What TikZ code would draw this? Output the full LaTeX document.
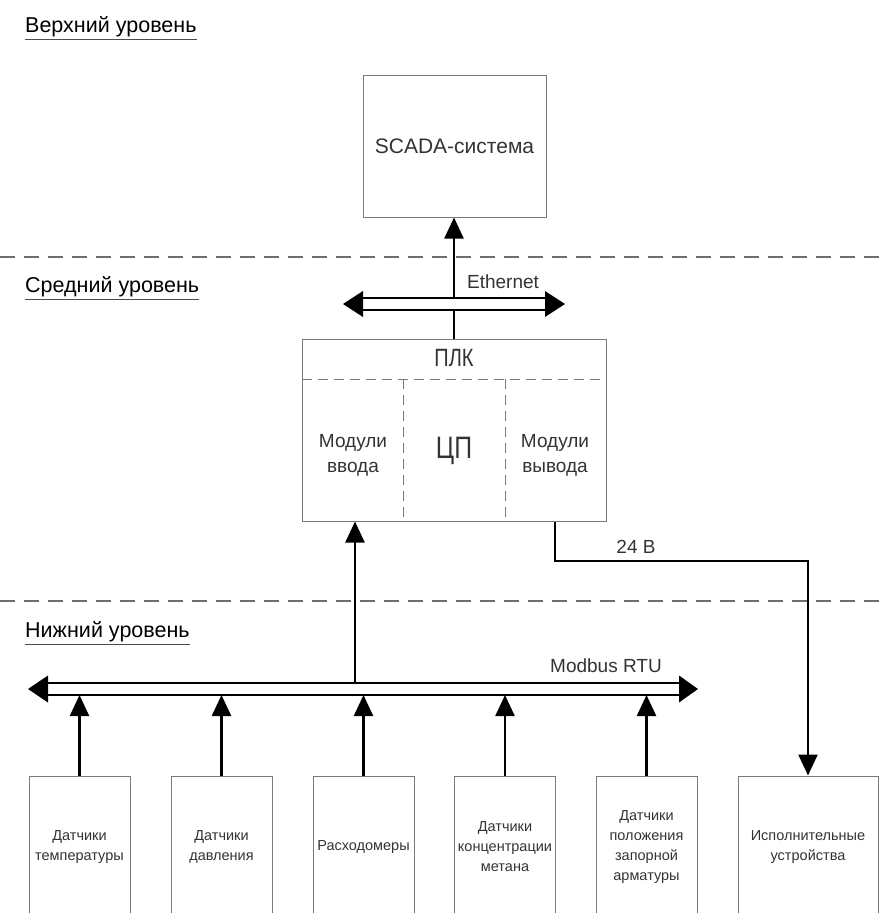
\documentclass[tikz,border=0pt]{standalone}
\usepackage{fontspec}
\setmainfont{Liberation Sans}
\newfontfamily\narrowfont[FakeStretch=0.8]{Liberation Sans}
\usetikzlibrary{arrows.meta}
\definecolor{boxgray}{HTML}{7A7A7A}
\definecolor{dashgray}{HTML}{6E6E6E}
\definecolor{txt}{HTML}{333333}
\begin{document}
\begin{tikzpicture}[x=1pt,y=-1pt,
  box/.style={draw=boxgray, line width=1pt, inner sep=0pt, text=txt, align=center},
  sensor/.style={box, minimum width=101pt, minimum height=142pt,
    font=\fontsize{14.5}{20}\selectfont},
  conn/.style={line width=2.4pt, black},
  tip/.style={-{Triangle[width=19pt,length=21pt]}},
  busline/.style={line width=2.2pt, black},
  lvl/.style={draw=dashgray, line width=1.2pt, dash pattern=on 15pt off 9pt},
  innerdash/.style={draw=boxgray, line width=0.9pt, dash pattern=on 10pt off 6pt},
  heading/.style={anchor=west, inner sep=0pt, font=\fontsize{21.5}{25}\selectfont, text=black},
  uline/.style={draw=black!70, line width=1.3pt},
  lbl/.style={inner sep=0pt, text=txt, font=\fontsize{19}{23}\selectfont}
]
\useasboundingbox (0,0) rectangle (882,913);

% level separators
\coordinate (d1l) at (0,257); \coordinate (d1r) at (882,257);
\coordinate (d2l) at (0,601); \coordinate (d2r) at (882,601);
\draw[lvl] (d1l) -- (d1r);
\draw[lvl] (d2l) -- (d2r);

% headings
\node[heading] (h1) at (25,27) {Верхний уровень};
\node[heading] (h2) at (25,287) {Средний уровень};
\node[heading] (h3) at (25,632) {Нижний уровень};
\foreach \h in {h1,h2,h3}
  \draw[uline] ([yshift=-2pt]\h.south west) -- ([yshift=-2pt]\h.south east);

% SCADA
\node[box, minimum width=183pt, minimum height=142pt,
  font=\fontsize{21}{25}\selectfont] (scada) at (454.5,146) {SCADA-система};

% PLC
\node[box, minimum width=304pt, minimum height=182pt] (plc) at (454,430) {};
\coordinate (pd1) at (302,379); \coordinate (pd2) at (606,379);
\draw[innerdash] (pd1) -- (pd2);
\coordinate (v1) at (403,379); \coordinate (v2) at (505,379);
\draw[innerdash] (v1) -- (v1 |- plc.south);
\draw[innerdash] (v2) -- (v2 |- plc.south);
\node[inner sep=0pt, text=txt, font=\narrowfont\fontsize{25}{29}\selectfont] (plcname) at (454,358) {ПЛК};
\node[inner sep=0pt, text=txt, font=\narrowfont\fontsize{31}{35}\selectfont] (cpu) at (454,451) {ЦП};
\node[inner sep=0pt, text=txt, align=center, font=\fontsize{19}{25}\selectfont] (min) at (353,455) {Модули\\ввода};
\node[inner sep=0pt, text=txt, align=center, font=\fontsize{19}{25}\selectfont] (mout) at (555,455) {Модули\\вывода};

% Ethernet bus
\coordinate (etL) at (343,304); \coordinate (etR) at (565,304);
\draw[busline] (363,298) -- (545,298);
\draw[busline] (363,310) -- (545,310);
\fill (etL) -- (363,291) -- (363,317) -- cycle;
\fill (etR) -- (545,291) -- (545,317) -- cycle;
\node[lbl] (eth) at (503,282) {Ethernet};
\coordinate (ethU) at (454,298);
\coordinate (ethD) at (454,310);
\draw[conn, tip] (ethU) -- (ethU |- scada.south);
\draw[conn] (ethD) -- (ethD |- plc.north);

% Modbus bus
\coordinate (mbL) at (28,689); \coordinate (mbR) at (698,689);
\draw[busline] (48,683) -- (679,683);
\draw[busline] (48,695) -- (679,695);
\fill (mbL) -- (48,675.5) -- (48,702.5) -- cycle;
\fill (mbR) -- (679,675.5) -- (679,702.5) -- cycle;
\node[lbl] (mb) at (606,666) {Modbus RTU};
\coordinate (inB) at (355,683);
\draw[conn, tip] (inB) -- (inB |- plc.south);
\coordinate (mbD) at (0,695);

% sensors
\node[sensor] (s1) at (79.5,847) {Датчики\\температуры};
\node[sensor] (s2) at (221.5,847) {Датчики\\давления};
\node[sensor] (s3) at (363.5,847) {Расходомеры};
\node[sensor] (s4) at (505,847) {Датчики\\концентрации\\метана};
\node[sensor] (s5) at (646.5,847) {Датчики\\положения\\запорной\\арматуры};
\node[sensor, minimum width=140pt] (act) at (808,847) {Исполнительные\\устройства};
\foreach \s in {s1,s2,s3,s4,s5}
  \draw[conn, tip] (\s.north) -- (\s.north |- mbD);

% 24 V output
\coordinate (o1) at (555,561);
\draw[conn, tip] (o1 |- plc.south) -- (o1) -| (act.north);
\node[lbl] (v24) at (636,547) {24 В};
\end{tikzpicture}
\end{document}
